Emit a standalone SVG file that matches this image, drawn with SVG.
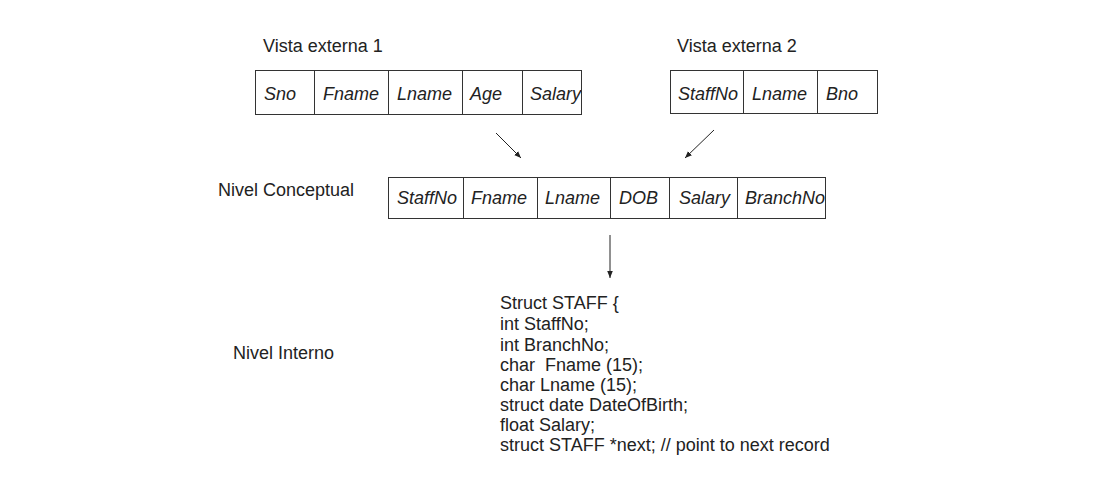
<svg xmlns="http://www.w3.org/2000/svg" width="1096" height="492" viewBox="0 0 1096 492">
<style>
.lbl{font-family:"Liberation Sans",Arial,sans-serif;font-size:18px;fill:#222}
.cell{font-family:"Liberation Sans",Arial,sans-serif;font-size:18px;font-style:italic;fill:#222}
.box{fill:#fff;stroke:#333;stroke-width:1}
.conn{stroke:#222;stroke-width:1;fill:none;marker-end:url(#ah)}
</style>
<defs>
<marker id="ah" viewBox="0 0 10 10" refX="10" refY="5" markerWidth="7" markerHeight="7" orient="auto" markerUnits="userSpaceOnUse">
<path d="M0,1 L10,5 L0,9 z" fill="#222"/>
</marker>
<clipPath id="c1"><rect x="255" y="70" width="326" height="44"/></clipPath>
<clipPath id="c3"><rect x="388" y="177" width="437" height="41"/></clipPath>
</defs>
<rect width="1096" height="492" fill="#fff"/>
<g id="ext1">
<text class="lbl" x="263" y="52">Vista externa 1</text>
<rect class="box" x="255.5" y="70.5" width="326" height="44"/>
<path d="M314.5 70.5V114.5M388.5 70.5V114.5M462.5 70.5V114.5M522.5 70.5V114.5" stroke="#333"/>
<g clip-path="url(#c1)">
<text class="cell" x="264" y="100">Sno</text>
<text class="cell" x="323" y="100">Fname</text>
<text class="cell" x="397" y="100">Lname</text>
<text class="cell" x="470" y="100">Age</text>
<text class="cell" x="530" y="100">Salary</text>
</g>
</g>
<g id="ext2">
<text class="lbl" x="677" y="52">Vista externa 2</text>
<rect class="box" x="670.5" y="70.5" width="207" height="43"/>
<path d="M743.5 70.5V113.5M817.5 70.5V113.5" stroke="#333"/>
<text class="cell" x="678" y="100">StaffNo</text>
<text class="cell" x="752" y="100">Lname</text>
<text class="cell" x="826" y="100">Bno</text>
</g>
<g id="conceptual">
<text class="lbl" x="218" y="196">Nivel Conceptual</text>
<rect class="box" x="388.5" y="177.5" width="437" height="41"/>
<path d="M463.5 177.5V218.5M537.5 177.5V218.5M610.5 177.5V218.5M669.5 177.5V218.5M737.5 177.5V218.5" stroke="#333"/>
<g clip-path="url(#c3)">
<text class="cell" x="397" y="204">StaffNo</text>
<text class="cell" x="471" y="204">Fname</text>
<text class="cell" x="545" y="204">Lname</text>
<text class="cell" x="619" y="204">DOB</text>
<text class="cell" x="679" y="204">Salary</text>
<text class="cell" x="745" y="204">BranchNo</text>
</g>
</g>
<g id="internal">
<text class="lbl" x="233" y="359">Nivel Interno</text>
<text class="lbl" x="500" y="309">Struct STAFF {</text>
<text class="lbl" x="500" y="330">int StaffNo;</text>
<text class="lbl" x="500" y="351">int BranchNo;</text>
<text class="lbl" x="500" y="371" xml:space="preserve">char  Fname (15);</text>
<text class="lbl" x="500" y="391">char Lname (15);</text>
<text class="lbl" x="500" y="411">struct date DateOfBirth;</text>
<text class="lbl" x="500" y="431">float Salary;</text>
<text class="lbl" x="500" y="451">struct STAFF *next; // point to next record</text>
</g>
<g id="connectors">
<line class="conn" x1="496" y1="133" x2="521" y2="158"/>
<line class="conn" x1="714" y1="130" x2="685" y2="158"/>
<line class="conn" x1="610" y1="235" x2="610" y2="278"/>
</g>
</svg>
